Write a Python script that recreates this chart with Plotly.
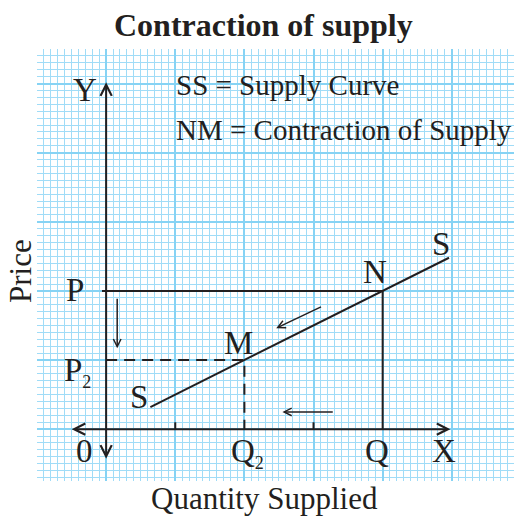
import plotly.graph_objects as go

# ---- data (in grid units) ----
supply_x = [6.4, 49.6]
supply_y = [3.2, 24.8]
price_P = 20
price_P2 = 10
qty_Q = 40
qty_Q2 = 20
axis_ticks_x = [10, 30]

title_text = "Contraction of supply"
legend_lines = ["SS = Supply Curve", "NM = Contraction of Supply"]
x_title = "Quantity Supplied"
y_title = "Price"

INK = "#231f20"
FONT = "Liberation Serif, Times New Roman, serif"

fig = go.Figure()

# supply curve
fig.add_trace(go.Scatter(x=supply_x, y=supply_y, mode="lines",
                         line=dict(color=INK, width=2), hoverinfo="skip"))
# P -> N horizontal, N -> Q vertical (solid)
fig.add_trace(go.Scatter(x=[-0.6, qty_Q, qty_Q], y=[price_P, price_P, 0], mode="lines",
                         line=dict(color=INK, width=2), hoverinfo="skip"))
# P2 -> M horizontal, M -> Q2 vertical (dashed)
fig.add_trace(go.Scatter(x=[0, qty_Q2, qty_Q2], y=[price_P2, price_P2, 0], mode="lines",
                         line=dict(color=INK, width=2, dash="11px,7px"), hoverinfo="skip"))
# small ticks on x axis
for tx in axis_ticks_x:
    fig.add_trace(go.Scatter(x=[tx, tx], y=[0, 1], mode="lines",
                             line=dict(color=INK, width=2), hoverinfo="skip"))

ann = []
def arrow(x0, y0, x1, y1, both=False, width=2, size=1.0):
    ann.append(dict(x=x1, y=y1, ax=x0, ay=y0, xref="x", yref="y", axref="x", ayref="y",
                    showarrow=True, arrowhead=5, arrowsize=size, arrowwidth=width,
                    arrowcolor=INK, arrowside="end+start" if both else "end",
                    startarrowhead=5, startarrowsize=size, text=""))

# axes
arrow(0, -4.5, 0, 50.2, both=True, size=1.1)
arrow(-5.2, 0, 49.8, 0, both=True, size=1.1)
# movement arrows
arrow(1.6, 19.1, 1.6, 11.7, width=1.5)
arrow(31.3, 17.8, 24.6, 14.6, width=1.5)
arrow(33.0, 2.5, 25.5, 2.5, width=1.5)

def label(x, y, text, size=33, xanchor="center"):
    ann.append(dict(x=x, y=y, xref="x", yref="y", text=text, showarrow=False,
                    xanchor=xanchor, yanchor="middle",
                    font=dict(family=FONT, size=size, color=INK)))

label(-3.1, 49.0, "Y")
label(9.8, 49.8, legend_lines[0], size=29, xanchor="left")
label(9.8, 43.3, legend_lines[1], size=29, xanchor="left")
label(-4.5, 20.1, "P")
label(-4.1, 8.3, "P<sub><span style='font-size:18px'>2</span></sub>")
label(19.2, 12.4, "M")
label(4.8, 4.6, "S")
label(38.9, 22.7, "N")
label(48.5, 26.8, "S")
label(-3.2, -3.2, "0")
label(20.4, -3.4, "Q<sub><span style='font-size:18px'>2</span></sub>")
label(39.2, -3.2, "Q")
label(48.9, -3.2, "X")

fig.update_layout(
    width=514, height=517,
    margin=dict(l=37, r=0, t=49, b=36),
    paper_bgcolor="white", plot_bgcolor="white",
    showlegend=False,
    annotations=ann,
    font=dict(family=FONT, color=INK),
)

fig.add_annotation(x=(263 - 37) / 477, y=1 + (49 - 25) / 432, xref="paper", yref="paper",
                   text="<b>" + title_text + "</b>", showarrow=False,
                   xanchor="center", yanchor="middle",
                   font=dict(family=FONT, size=32, color=INK))
fig.add_annotation(x=(264 - 37) / 477, y=-(498 - 481) / 432, xref="paper", yref="paper",
                   text=x_title, showarrow=False, xanchor="center", yanchor="middle",
                   font=dict(family=FONT, size=31, color=INK))
fig.add_annotation(x=-(37 - 20) / 477, y=(481 - 271) / 432, xref="paper", yref="paper",
                   text=y_title, showarrow=False, xanchor="center", yanchor="middle",
                   textangle=-90, font=dict(family=FONT, size=31, color=INK))

grid_major = "#86d3f4"
grid_minor = "#a0dcf7"
fig.update_xaxes(range=[-10, 59], tick0=0, dtick=10, showgrid=True, gridcolor=grid_major,
                 gridwidth=2, showticklabels=False, ticks="", zeroline=False, showline=False,
                 fixedrange=True,
                 minor=dict(dtick=1, tick0=0, showgrid=True, gridcolor=grid_minor, gridwidth=1.4))
fig.update_yaxes(range=[-7.5, 55], tick0=0, dtick=10, showgrid=True, gridcolor=grid_major,
                 gridwidth=2, showticklabels=False, ticks="", zeroline=False, showline=False,
                 fixedrange=True,
                 minor=dict(dtick=1, tick0=0, showgrid=True, gridcolor=grid_minor, gridwidth=1.4))

fig.write_html("out.html", config={"displayModeBar": False},
               post_script="document.body.style.margin='0';document.body.style.overflow='hidden';")
